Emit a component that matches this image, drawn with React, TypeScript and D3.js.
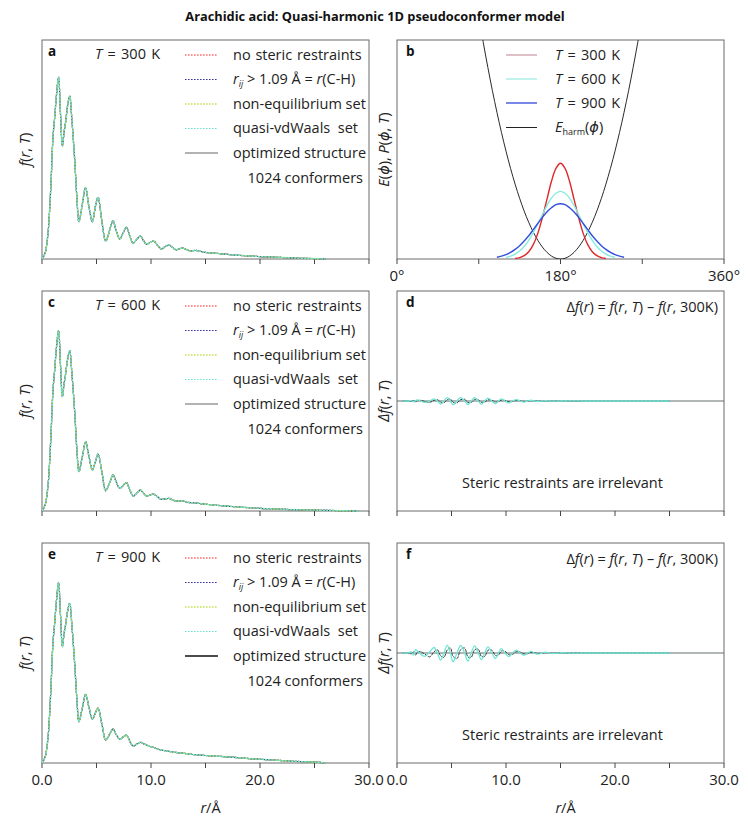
import React from "react";
import * as d3 from "d3";

const TITLE = "Arachidic acid: Quasi-harmonic 1D pseudoconformer model";
const R_TICKS = [0, 5, 10, 15, 20, 25, 30];
const R_LABELS = [0, 10, 20, 30];
const PHI_TICKS = [0, 90, 180, 270, 360];
const PHI_LABELS = [0, 180, 360];

// radial grid (Å) shared by f(r, T) curves
const R_GRID = [0, 0.3, 0.55, 0.8, 1.01, 1.17, 1.33, 1.52, 1.7, 1.87, 2.03, 2.17, 2.35, 2.54, 2.75, 3.0, 3.2, 3.39, 3.7, 4.0, 4.3, 4.62, 4.9, 5.14, 5.5, 5.84, 6.2, 6.51, 6.8, 7.13, 7.45, 7.74, 8.05, 8.35, 8.7, 9.03, 9.3, 9.58, 9.9, 10.25, 10.6, 10.95, 11.3, 11.65, 12.0, 12.3, 12.6, 12.9, 13.3, 13.6, 14.0, 14.3, 15, 16, 17, 18, 19, 20, 21, 22, 23, 24, 25, 26, 27, 28, 29];
const F_300 = [0, 0.03, 0.117, 0.32, 0.558, 0.65, 0.75, 0.83, 0.66, 0.516, 0.58, 0.627, 0.7, 0.744, 0.63, 0.452, 0.28, 0.17, 0.25, 0.326, 0.24, 0.17, 0.24, 0.282, 0.17, 0.082, 0.13, 0.175, 0.13, 0.091, 0.12, 0.145, 0.105, 0.072, 0.09, 0.105, 0.085, 0.067, 0.075, 0.082, 0.062, 0.046, 0.056, 0.064, 0.052, 0.042, 0.047, 0.05, 0.042, 0.036, 0.039, 0.038, 0.03, 0.026, 0.021, 0.017, 0.014, 0.011, 0.009, 0.007, 0.005, 0.003, 0.002, 0.0, null, null, null];
const F_600 = [0, 0.03, 0.115, 0.32, 0.55, 0.645, 0.745, 0.82, 0.66, 0.52, 0.58, 0.625, 0.69, 0.729, 0.62, 0.45, 0.28, 0.179, 0.247, 0.315, 0.25, 0.186, 0.225, 0.259, 0.175, 0.092, 0.128, 0.164, 0.133, 0.103, 0.116, 0.129, 0.098, 0.068, 0.082, 0.095, 0.082, 0.068, 0.072, 0.077, 0.064, 0.053, 0.055, 0.057, 0.05, 0.045, 0.046, 0.046, 0.04, 0.038, 0.037, 0.035, 0.031, 0.026, 0.022, 0.018, 0.015, 0.012, 0.01, 0.008, 0.006, 0.005, 0.004, 0.003, 0.002, 0.001, 0.0];
const F_900 = [0, 0.03, 0.115, 0.32, 0.55, 0.64, 0.74, 0.82, 0.67, 0.529, 0.59, 0.63, 0.69, 0.726, 0.62, 0.45, 0.29, 0.188, 0.25, 0.312, 0.255, 0.2, 0.228, 0.249, 0.175, 0.105, 0.13, 0.155, 0.13, 0.108, 0.118, 0.127, 0.1, 0.077, 0.086, 0.094, 0.088, 0.082, 0.075, 0.07, 0.064, 0.059, 0.056, 0.053, 0.05, 0.048, 0.046, 0.045, 0.042, 0.04, 0.038, 0.037, 0.034, 0.031, 0.028, 0.024, 0.02, 0.017, 0.014, 0.011, 0.008, 0.006, 0.004, 0.001, null, null, null];

// Δf(r) = f(r, T) − f(r, 300 K)
const DR_GRID = [0.5, 1.0, 1.3, 1.52, 1.7, 1.87, 2.17, 2.54, 3.0, 3.39, 3.7, 4.0, 4.3, 4.62, 4.9, 5.14, 5.5, 5.84, 6.2, 6.51, 6.8, 7.13, 7.45, 7.74, 8.05, 8.35, 8.7, 9.03, 9.3, 9.58, 9.9, 10.25, 10.6, 10.95, 11.3, 11.65, 12.0, 12.3, 12.6, 12.9, 13.3, 13.6, 14.0, 14.3, 15, 16, 17, 18, 20, 22, 25];
const DF_600_QVDW = [0, 0, 0.004, -0.008, 0.004, 0.01, 0.0, -0.012, 0.0, 0.02, 0, -0.028, 0, 0.03, 0, -0.033, 0, 0.03, 0, -0.033, 0, 0.03, 0, -0.03, 0, 0.026, 0, -0.024, 0, 0.02, 0, -0.017, 0, 0.012, 0, -0.01, 0, 0.007, 0, -0.005, 0, 0.004, 0, -0.002, 0, 0.001, 0, 0, 0, 0, 0];
const DF_600_OPT = [0, 0, -0.003, 0.004, -0.006, 0.002, 0.006, -0.004, -0.012, 0.006, 0.012, -0.01, -0.016, 0.012, 0.018, -0.012, -0.018, 0.012, 0.016, -0.014, -0.012, 0.014, 0.01, -0.012, -0.01, 0.01, 0.008, -0.01, -0.006, 0.008, 0.005, -0.007, -0.004, 0.005, 0.003, -0.004, -0.002, 0.003, 0.001, -0.002, 0, 0.002, 0, -0.001, 0, 0, 0, 0, 0, 0, 0];
const DF_900_QVDW = [0, 0, 0.01, -0.02, 0.03, 0.02, -0.01, -0.03, 0.01, 0.05, 0, -0.065, 0, 0.07, 0, -0.08, 0, 0.07, 0, -0.075, 0, 0.065, 0, -0.06, 0, 0.055, 0, -0.05, 0, 0.04, 0, -0.033, 0, 0.027, 0, -0.02, 0, 0.015, 0, -0.011, 0, 0.008, 0, -0.005, 0.002, -0.001, 0, 0, 0, 0, 0];
const DF_900_OPT = [0, 0, -0.008, 0.012, -0.02, 0.008, 0.012, -0.01, -0.035, 0.01, 0.03, -0.025, -0.04, 0.03, 0.045, -0.03, -0.05, 0.03, 0.045, -0.035, -0.04, 0.03, 0.035, -0.03, -0.03, 0.025, 0.025, -0.022, -0.02, 0.018, 0.016, -0.015, -0.012, 0.012, 0.008, -0.009, -0.006, 0.006, 0.004, -0.004, -0.002, 0.003, 0.001, -0.002, 0.001, 0, 0, 0, 0, 0, 0];

// torsional distributions P(φ, T), φ in degrees
const PHI_GRID = [110, 115, 120, 125, 130, 135, 140, 145, 150, 155, 160, 165, 170, 175, 180, 185, 190, 195, 200, 205, 210, 215, 220, 225, 230, 235, 240, 245, 250];
const P_300 = [null, null, null, null, 0.0023, 0.0061, 0.015, 0.033, 0.0655, 0.117, 0.188, 0.271, 0.354, 0.414, 0.437, 0.414, 0.354, 0.271, 0.188, 0.117, 0.0655, 0.033, 0.015, 0.0061, 0.0023, null, null, null, null];
const P_600 = [null, null, 0.007, 0.0128, 0.0223, 0.0366, 0.0574, 0.085, 0.12, 0.16, 0.202, 0.244, 0.278, 0.3, 0.309, 0.3, 0.278, 0.244, 0.202, 0.16, 0.12, 0.085, 0.0574, 0.0366, 0.0223, 0.0128, 0.007, null, null];
const P_900 = [0.0082, 0.013, 0.0201, 0.0301, 0.0437, 0.061, 0.082, 0.106, 0.134, 0.162, 0.19, 0.215, 0.234, 0.248, 0.252, 0.248, 0.234, 0.215, 0.19, 0.162, 0.134, 0.106, 0.082, 0.061, 0.0437, 0.0301, 0.0201, 0.013, 0.0082];
const PHI_E = [90, 95, 100, 105, 110, 115, 120, 125, 130, 135, 140, 145, 150, 155, 160, 165, 170, 175, 180, 185, 190, 195, 200, 205, 210, 215, 220, 225, 230, 235, 240, 245, 250, 255, 260, 265, 270];
const E_HARM = [1.108, 0.988, 0.8755, 0.769, 0.6703, 0.578, 0.4925, 0.414, 0.342, 0.277, 0.2189, 0.1676, 0.1231, 0.0855, 0.0547, 0.0308, 0.0137, 0.0034, 0, 0.0034, 0.0137, 0.0308, 0.0547, 0.0855, 0.1231, 0.1676, 0.2189, 0.277, 0.342, 0.414, 0.4925, 0.578, 0.6703, 0.769, 0.8755, 0.988, 1.108];

const FONT = "'Open Sans', 'DejaVu Sans', sans-serif";
const COLS = [{ x0: 42, x1: 369 }, { x0: 397, x1: 724 }];
const ROWS = [{ y0: 40, y1: 259 }, { y0: 291, y1: 511 }, { y0: 543, y1: 763 }];
const FS = 14.5;
const TICK_FS = 15;

const C_RED = "#ff2a2a";
const C_NAVY = "#3a3aa0";
const C_GREEN = "#a6d400";
const C_CYAN = "#6fe6d6";
const C_OPT = "#3a3a3a";
const DOT = "1.6 1.4";

function Frame({ x0, x1, y0, y1, ticks, xs, labels, fmt }: any) {
  return (
    <g>
      <rect x={x0} y={y0} width={x1 - x0} height={y1 - y0} fill="none" stroke="#6a6a6a" strokeWidth={1} />
      {ticks.map((t: number) => (
        <line key={t} x1={xs(t)} x2={xs(t)} y1={y1} y2={y1 + 5} stroke="#444" strokeWidth={1} />
      ))}
      {labels &&
        labels.map((t: number) => (
          <text key={"l" + t} x={xs(t)} y={y1 + 22} textAnchor="middle" fontSize={TICK_FS} fontFamily={FONT} fill="#222">
            {fmt(t)}
          </text>
        ))}
    </g>
  );
}

function FPanel({ row, letter, temp, F, showLabels }: any) {
  const { x0, x1 } = COLS[0];
  const { y0, y1 } = ROWS[row];
  const xs = d3.scaleLinear().domain([0, 30]).range([x0, x1]);
  const ys = d3.scaleLinear().domain([0, 1]).range([y1, y0]);
  const pts = R_GRID.map((r, i) => [r, F[i]] as [number, number | null]);
  const line = d3
    .line<[number, number | null]>()
    .defined((d) => d[1] !== null)
    .x((d) => xs(d[0]))
    .y((d) => ys(d[1] as number))
    .curve(d3.curveCatmullRom.alpha(0.5));
  const path = line(pts) || "";
  const series = [
    { name: "no steric restraints", color: C_RED, dash: DOT, w: 1.2 },
    { name: "rij", color: C_NAVY, dash: DOT, w: 1.2 },
    { name: "non-equilibrium set", color: C_GREEN, dash: DOT, w: 1.2 },
    { name: "quasi-vdWaals  set", color: C_CYAN, dash: "2.4 0.9", w: 1.4 },
  ];
  const rowsY = [19.5, 44, 68.5, 93, 117.5, 142.5].map((d) => y0 + d);
  const lx0 = 185, lx1 = 218, tx = 233;
  return (
    <g>
      <Frame x0={x0} x1={x1} y0={y0} y1={y1} ticks={R_TICKS} xs={xs} labels={showLabels ? R_LABELS : null} fmt={(t: number) => t.toFixed(1)} />
      <path d={path} fill="none" stroke={C_OPT} strokeWidth={1.1} />
      {series.map((s) => (
        <path key={s.name} d={path} fill="none" stroke={s.color} strokeWidth={s.w} strokeDasharray={s.dash} />
      ))}
      <text x={x0 + 6} y={y0 + 16} fontSize={13.5} fontWeight="bold" fontFamily={FONT} fill="#111">{letter}</text>
      <text x={95} y={y0 + 19} fontSize={FS} fontFamily={FONT} fill="#222" wordSpacing={1.5}>
        <tspan fontStyle="italic">T</tspan> = {temp} K
      </text>
      {/* legend */}
      <line x1={lx0} x2={lx1} y1={rowsY[0] - 4.5} y2={rowsY[0] - 4.5} stroke={C_RED} strokeWidth={1.2} strokeDasharray={DOT} />
      <text x={tx} y={rowsY[0]} fontSize={FS} fontFamily={FONT} fill="#222" wordSpacing={1}>no steric restraints</text>
      <line x1={lx0} x2={lx1} y1={rowsY[1] - 4.5} y2={rowsY[1] - 4.5} stroke={C_NAVY} strokeWidth={1.2} strokeDasharray={DOT} />
      <text x={tx} y={rowsY[1]} fontSize={FS} fontFamily={FONT} fill="#222">
        <tspan fontStyle="italic">r</tspan>
        <tspan fontStyle="italic" fontSize={9} dy={3}>ij</tspan>
        <tspan dy={-3}> &gt; 1.09 Å = </tspan>
        <tspan fontStyle="italic">r</tspan>
        <tspan>(C-H)</tspan>
      </text>
      <line x1={lx0} x2={lx1} y1={rowsY[2] - 4.5} y2={rowsY[2] - 4.5} stroke={C_GREEN} strokeWidth={1.2} strokeDasharray={DOT} />
      <text x={tx} y={rowsY[2]} fontSize={FS} fontFamily={FONT} fill="#222">non-equilibrium set</text>
      <line x1={lx0} x2={lx1} y1={rowsY[3] - 4.5} y2={rowsY[3] - 4.5} stroke={C_CYAN} strokeWidth={1.2} strokeDasharray={DOT} />
      <text x={tx} y={rowsY[3]} fontSize={FS} fontFamily={FONT} fill="#222" style={{ whiteSpace: "pre" }}>quasi-vdWaals  set</text>
      <line x1={lx0} x2={lx1} y1={rowsY[4] - 4.5} y2={rowsY[4] - 4.5} stroke={row === 2 ? "#111" : "#666"} strokeWidth={row === 2 ? 1.3 : 1.1} />
      <text x={tx} y={rowsY[4]} fontSize={FS} fontFamily={FONT} fill="#222">optimized structure</text>
      <text x={363} y={rowsY[5]} textAnchor="end" fontSize={FS} fontFamily={FONT} fill="#222">1024 conformers</text>
      {/* y label */}
      <text transform={`translate(30,${(y0 + y1) / 2}) rotate(-90)`} textAnchor="middle" fontSize={FS} fontFamily={FONT} fill="#222">
        <tspan fontStyle="italic">f</tspan>(<tspan fontStyle="italic">r</tspan>, <tspan fontStyle="italic">T</tspan>)
      </text>
    </g>
  );
}

function DPanel({ row, letter, Dq, Do, showLabels }: any) {
  const { x0, x1 } = COLS[1];
  const { y0, y1 } = ROWS[row];
  const xs = d3.scaleLinear().domain([0, 30]).range([x0, x1]);
  const ys = d3.scaleLinear().domain([-1, 1]).range([y1, y0]);
  const line = d3
    .line<[number, number]>()
    .x((d) => xs(d[0]))
    .y((d) => ys(d[1]))
    .curve(d3.curveCatmullRom.alpha(0.5));
  const pq = line(DR_GRID.map((r, i) => [r, Dq[i]] as [number, number])) || "";
  const po = line(DR_GRID.map((r, i) => [r, Do[i]] as [number, number])) || "";
  const cx = (x0 + x1) / 2 + 2;
  return (
    <g>
      <Frame x0={x0} x1={x1} y0={y0} y1={y1} ticks={R_TICKS} xs={xs} labels={showLabels ? R_LABELS : null} fmt={(t: number) => t.toFixed(1)} />
      <line x1={xs(0)} x2={xs(30)} y1={ys(0)} y2={ys(0)} stroke="#5f6f6f" strokeWidth={1} />
      <path d={po} fill="none" stroke="#333" strokeWidth={1} strokeDasharray="3 1" />
      <path d={pq} fill="none" stroke={C_CYAN} strokeWidth={1.3} />
      <text x={x0 + 9} y={y0 + 16} fontSize={13.5} fontWeight="bold" fontFamily={FONT} fill="#111">{letter}</text>
      <text x={718} y={y0 + 21} textAnchor="end" fontSize={FS} fontFamily={FONT} fill="#222">
        Δ<tspan fontStyle="italic">f</tspan>(<tspan fontStyle="italic">r</tspan>) = <tspan fontStyle="italic">f</tspan>(<tspan fontStyle="italic">r</tspan>, <tspan fontStyle="italic">T</tspan>) – <tspan fontStyle="italic">f</tspan>(<tspan fontStyle="italic">r</tspan>, 300K)
      </text>
      <text x={cx} y={y1 - 23} textAnchor="middle" fontSize={FS} fontFamily={FONT} fill="#222">Steric restraints are irrelevant</text>
      <text transform={`translate(389,${(y0 + y1) / 2}) rotate(-90)`} textAnchor="middle" fontSize={FS} fontFamily={FONT} fill="#222">
        <tspan fontStyle="italic">Δf</tspan>(<tspan fontStyle="italic">r</tspan>, <tspan fontStyle="italic">T</tspan>)
      </text>
    </g>
  );
}

function BPanel() {
  const { x0, x1 } = COLS[1];
  const { y0, y1 } = ROWS[0];
  const xs = d3.scaleLinear().domain([0, 360]).range([x0, x1]);
  const ys = d3.scaleLinear().domain([0, 1]).range([y1, y0]);
  const line = d3
    .line<[number, number | null]>()
    .defined((d) => d[1] !== null)
    .x((d) => xs(d[0]))
    .y((d) => ys(d[1] as number))
    .curve(d3.curveCatmullRom.alpha(0.5));
  const mk = (arr: (number | null)[]) => line(PHI_GRID.map((p, i) => [p, arr[i]] as [number, number | null])) || "";
  const pe = line(PHI_E.map((p, i) => [p, E_HARM[i]] as [number, number])) || "";
  const rowsY = [19.5, 43.5, 67.5, 92].map((d) => y0 + d);
  const lx0 = 506, lx1 = 537, tx = 555;
  const leg = [
    { c: "#cfa7ae", t: "300" },
    { c: "#a6eee6", t: "600" },
    { c: "#3d55e0", t: "900" },
  ];
  return (
    <g>
      <defs>
        <clipPath id="clipB">
          <rect x={x0} y={y0} width={x1 - x0} height={y1 - y0} />
        </clipPath>
      </defs>
      <Frame x0={x0} x1={x1} y0={y0} y1={y1} ticks={PHI_TICKS} xs={xs} labels={PHI_LABELS} fmt={(t: number) => t + "°"} />
      <g clipPath="url(#clipB)">
        <path d={pe} fill="none" stroke="#2a2a2a" strokeWidth={1} />
        <path d={mk(P_300)} fill="none" stroke="#e0262a" strokeWidth={1.4} />
        <path d={mk(P_600)} fill="none" stroke="#86ecdf" strokeWidth={1.4} />
        <path d={mk(P_900)} fill="none" stroke="#3550e0" strokeWidth={1.4} />
      </g>
      <text x={x0 + 9} y={y0 + 16} fontSize={13.5} fontWeight="bold" fontFamily={FONT} fill="#111">b</text>
      {leg.map((l, i) => (
        <g key={l.t}>
          <line x1={lx0} x2={lx1} y1={rowsY[i] - 4.5} y2={rowsY[i] - 4.5} stroke={l.c} strokeWidth={1.4} />
          <text x={tx} y={rowsY[i]} fontSize={FS} fontFamily={FONT} fill="#222" wordSpacing={1.5}>
            <tspan fontStyle="italic">T</tspan> = {l.t} K
          </text>
        </g>
      ))}
      <line x1={lx0} x2={lx1} y1={rowsY[3] - 4.5} y2={rowsY[3] - 4.5} stroke="#222" strokeWidth={1} />
      <text x={tx} y={rowsY[3]} fontSize={FS} fontFamily={FONT} fill="#222">
        <tspan fontStyle="italic">E</tspan>
        <tspan fontSize={9} dy={3}>harm</tspan>
        <tspan dy={-3}>(</tspan>
        <tspan fontStyle="italic">ϕ</tspan>
        <tspan>)</tspan>
      </text>
      <text transform={`translate(389,${(y0 + y1) / 2}) rotate(-90)`} textAnchor="middle" fontSize={FS} fontFamily={FONT} fill="#222">
        <tspan fontStyle="italic">E</tspan>(<tspan fontStyle="italic">ϕ</tspan>), <tspan fontStyle="italic">P</tspan>(<tspan fontStyle="italic">ϕ</tspan>, <tspan fontStyle="italic">T</tspan>)
      </text>
    </g>
  );
}

export default function App() {
  return (
    <svg width={748} height={825} style={{ position: "absolute", left: 0, top: 0, background: "#fff" }}>
      <rect x={0} y={0} width={748} height={825} fill="#fff" />
      <text x={375} y={21} textAnchor="middle" fontSize={12.8} fontWeight="bold" fontFamily={FONT} fill="#111">{TITLE}</text>
      <FPanel row={0} letter="a" temp="300" F={F_300} showLabels={false} />
      <BPanel />
      <FPanel row={1} letter="c" temp="600" F={F_600} showLabels={false} />
      <DPanel row={1} letter="d" Dq={DF_600_QVDW} Do={DF_600_OPT} showLabels={false} />
      <FPanel row={2} letter="e" temp="900" F={F_900} showLabels={true} />
      <DPanel row={2} letter="f" Dq={DF_900_QVDW} Do={DF_900_OPT} showLabels={true} />
      <text x={(COLS[0].x0 + COLS[0].x1) / 2 + 5} y={813} textAnchor="middle" fontSize={FS} fontFamily={FONT} fill="#222">
        <tspan fontStyle="italic">r</tspan>/Å
      </text>
      <text x={(COLS[1].x0 + COLS[1].x1) / 2 + 5} y={813} textAnchor="middle" fontSize={FS} fontFamily={FONT} fill="#222">
        <tspan fontStyle="italic">r</tspan>/Å
      </text>
    </svg>
  );
}
